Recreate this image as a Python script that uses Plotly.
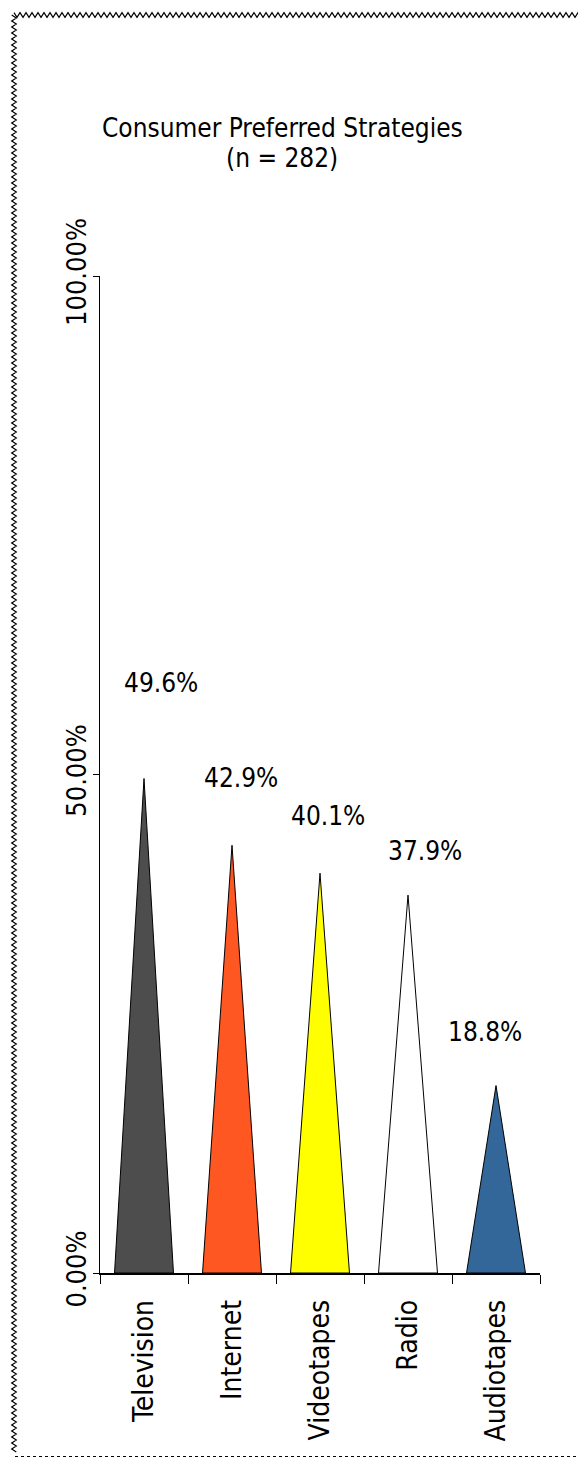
import plotly.graph_objects as go

# Survey results
categories = ["Television", "Internet", "Videotapes", "Radio", "Audiotapes"]
percentages = [49.6, 42.9, 40.1, 37.9, 18.8]
fill_colors = ["#4D4D4D", "#FF5722", "#FFFF00", "#FFFFFF", "#336699"]
y_tick_values = [0, 50, 100]
y_tick_labels = ["0.00%", "50.00%", "100.00%"]

# Value-label placement relative to each peak (category units, percentage points)
label_dx = [0.19, 0.10, 0.09, 0.19, -0.125]
label_dy = [9.6, 6.7, 5.7, 4.4, 5.4]

FONT = "DejaVu Sans Condensed, DejaVu Sans, sans-serif"
W, H = 578, 1458
M_L, M_R, M_T, M_B = 100, 38, 276, 185
PLOT_W = W - M_L - M_R
PLOT_H = H - M_T - M_B
HALF_BASE = 0.335


def px(x):
    return (x - M_L) / PLOT_W


def py(y):
    return (H - M_B - y) / PLOT_H


fig = go.Figure()

for i, (name, val, col) in enumerate(zip(categories, percentages, fill_colors)):
    fig.add_trace(go.Scatter(
        x=[i - HALF_BASE, i, i + HALF_BASE, i - HALF_BASE],
        y=[0, val, 0, 0],
        mode="lines",
        fill="toself",
        fillcolor=col,
        line=dict(color="black", width=1),
        name=name,
        hoverinfo="skip",
        showlegend=False,
    ))

annotations = []
for i, val in enumerate(percentages):
    annotations.append(dict(
        x=i + label_dx[i], y=val + label_dy[i], xref="x", yref="y",
        text=f"{val:.1f}%", showarrow=False,
        font=dict(family=FONT, size=26, color="black"),
        xanchor="center", yanchor="middle",
    ))

# Two-line heading
annotations.append(dict(
    x=px(282), y=py(128), xref="paper", yref="paper",
    text="Consumer Preferred Strategies", showarrow=False,
    font=dict(family=FONT, size=26, color="black"),
    xanchor="center", yanchor="middle",
))
annotations.append(dict(
    x=px(282), y=py(158), xref="paper", yref="paper",
    text="(n = 282)", showarrow=False,
    font=dict(family=FONT, size=26, color="black"),
    xanchor="center", yanchor="middle",
))

# Decorative page frame: zigzag top and left edges, dotted bottom edge
shapes = []
top_y, left_x, amp, step = 15, 14, 2.3, 3
pts = []
k = 0
x = left_x
while x <= W + step:
    pts.append((x, top_y + (amp if k % 2 else -amp)))
    x += step
    k += 1
path = "M " + " L ".join(f"{px(a):.5f},{py(b):.5f}" for a, b in pts)
shapes.append(dict(type="path", xref="paper", yref="paper", path=path,
                   line=dict(color="black", width=1.2)))

pts = []
k = 0
y = top_y
while y <= 1453:
    pts.append((left_x + (amp if k % 2 else -amp), y))
    y += step
    k += 1
path = "M " + " L ".join(f"{px(a):.5f},{py(b):.5f}" for a, b in pts)
shapes.append(dict(type="path", xref="paper", yref="paper", path=path,
                   line=dict(color="black", width=1.2)))

shapes.append(dict(type="line", xref="paper", yref="paper",
                   x0=px(15), x1=px(W), y0=py(1456.5), y1=py(1456.5),
                   line=dict(color="black", width=1, dash="dot")))

fig.update_layout(
    width=W, height=H,
    margin=dict(l=M_L, r=M_R, t=M_T, b=M_B, pad=0),
    paper_bgcolor="white", plot_bgcolor="white",
    font=dict(family=FONT, size=26, color="black"),
    showlegend=False,
    annotations=annotations,
    shapes=shapes,
)

fig.update_xaxes(
    range=[-0.5, len(categories) - 0.5],
    tickmode="array", tickvals=list(range(len(categories))), ticktext=categories,
    ticks="", tickangle=-90, ticklabelstandoff=14,
    minor=dict(tickmode="linear", tick0=-0.5, dtick=1, ticks="outside",
               ticklen=9, tickcolor="black", tickwidth=1, showgrid=False),
    showline=True, linecolor="black", linewidth=1.5,
    showgrid=False, zeroline=False, fixedrange=True,
    tickfont=dict(family=FONT, size=28, color="black"),
)

fig.update_yaxes(
    range=[0, 100],
    tickmode="array", tickvals=y_tick_values, ticktext=y_tick_labels,
    ticks="outside", ticklen=6, tickcolor="black", tickwidth=1,
    tickangle=-90, ticklabelstandoff=-4,
    showline=True, linecolor="black", linewidth=1,
    showgrid=False, zeroline=False, fixedrange=True,
    tickfont=dict(family=FONT, size=27, color="black"),
)

fig.write_html("out.html", config={"displayModeBar": False})
